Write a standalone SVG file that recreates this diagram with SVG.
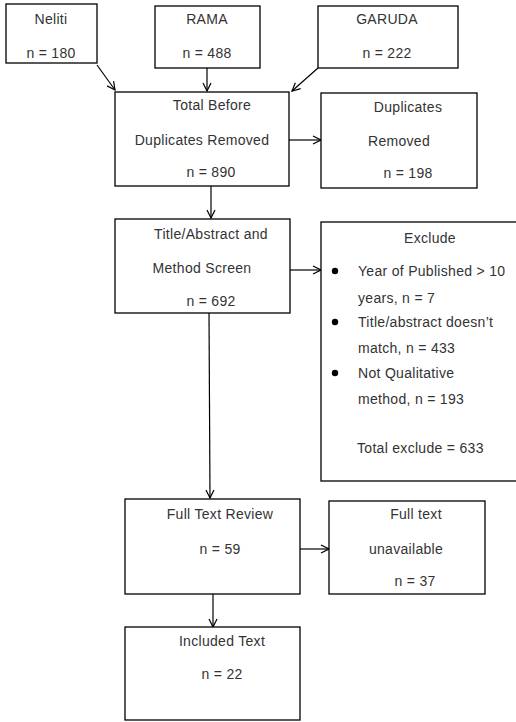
<svg xmlns="http://www.w3.org/2000/svg" width="516" height="722" viewBox="0 0 516 722">
<style>
.box{fill:#fff;stroke:#000;stroke-width:1.3}
.t{font-family:"Liberation Sans",Arial,sans-serif;font-size:14px;letter-spacing:0.3px;fill:#333;text-anchor:middle}
.l{text-anchor:start}
.c{fill:none;stroke:#000;stroke-width:1.2}
</style>
<defs>
<marker id="a" viewBox="0 0 10 10" refX="9" refY="5" markerWidth="10" markerHeight="10" markerUnits="userSpaceOnUse" orient="auto">
<path d="M1,1 L9,5 L1,9" fill="none" stroke="#000" stroke-width="1.2"/>
</marker>
</defs>
<rect width="516" height="722" fill="#fff"/>
<g id="connectors">
<line class="c" x1="97" y1="65" x2="115" y2="90" marker-end="url(#a)"/>
<line class="c" x1="207" y1="68" x2="207" y2="91" marker-end="url(#a)"/>
<line class="c" x1="318" y1="68" x2="292" y2="91" marker-end="url(#a)"/>
<line class="c" x1="289" y1="140" x2="321" y2="140" marker-end="url(#a)"/>
<line class="c" x1="211" y1="186" x2="211" y2="218" marker-end="url(#a)"/>
<line class="c" x1="290" y1="270" x2="321" y2="270" marker-end="url(#a)"/>
<line class="c" x1="209" y1="313" x2="210" y2="498" marker-end="url(#a)"/>
<line class="c" x1="300" y1="549" x2="329" y2="549" marker-end="url(#a)"/>
<line class="c" x1="213" y1="594" x2="213" y2="627" marker-end="url(#a)"/>
</g>
<g id="neliti">
<rect class="box" x="6" y="4" width="91" height="59"/>
<text class="t" x="51" y="24">Neliti</text>
<text class="t" x="51" y="58">n = 180</text>
</g>
<g id="rama">
<rect class="box" x="155" y="6" width="105" height="62"/>
<text class="t" x="207" y="24">RAMA</text>
<text class="t" x="207" y="58">n = 488</text>
</g>
<g id="garuda">
<rect class="box" x="318" y="6" width="140" height="62"/>
<text class="t" x="387" y="24">GARUDA</text>
<text class="t" x="387" y="58">n = 222</text>
</g>
<g id="total">
<rect class="box" x="115" y="92" width="174" height="94"/>
<text class="t" x="212" y="110">Total Before</text>
<text class="t" x="202" y="145">Duplicates Removed</text>
<text class="t" x="211" y="177">n = 890</text>
</g>
<g id="duplicates">
<rect class="box" x="321" y="93" width="156" height="95"/>
<text class="t" x="408" y="112">Duplicates</text>
<text class="t" x="399" y="146">Removed</text>
<text class="t" x="408" y="178">n = 198</text>
</g>
<g id="screen">
<rect class="box" x="115" y="219" width="175" height="94"/>
<text class="t" x="211" y="239">Title/Abstract and</text>
<text class="t" x="202" y="273">Method Screen</text>
<text class="t" x="211" y="306">n = 692</text>
</g>
<g id="exclude">
<rect class="box" x="321" y="222" width="200" height="259"/>
<text class="t" x="430" y="243">Exclude</text>
<circle cx="335" cy="271" r="3.2" fill="#000"/>
<circle cx="335" cy="322" r="3.2" fill="#000"/>
<circle cx="335" cy="373" r="3.2" fill="#000"/>
<text class="t l" x="358" y="276">Year of Published &gt; 10</text>
<text class="t l" x="358" y="303">years, n = 7</text>
<text class="t l" x="358" y="327">Title/abstract doesn’t</text>
<text class="t l" x="358" y="353">match, n = 433</text>
<text class="t l" x="358" y="378">Not Qualitative</text>
<text class="t l" x="358" y="404">method, n = 193</text>
<text class="t l" x="357" y="453">Total exclude = 633</text>
</g>
<g id="fulltext">
<rect class="box" x="125" y="499" width="175" height="95"/>
<text class="t" x="220" y="519">Full Text Review</text>
<text class="t" x="220" y="554">n = 59</text>
</g>
<g id="unavailable">
<rect class="box" x="329" y="501" width="156" height="93"/>
<text class="t" x="416" y="519">Full text</text>
<text class="t" x="406" y="554">unavailable</text>
<text class="t" x="415" y="586">n = 37</text>
</g>
<g id="included">
<rect class="box" x="125" y="627" width="175" height="93"/>
<text class="t" x="222" y="646">Included Text</text>
<text class="t" x="222" y="679">n = 22</text>
</g>
</svg>
